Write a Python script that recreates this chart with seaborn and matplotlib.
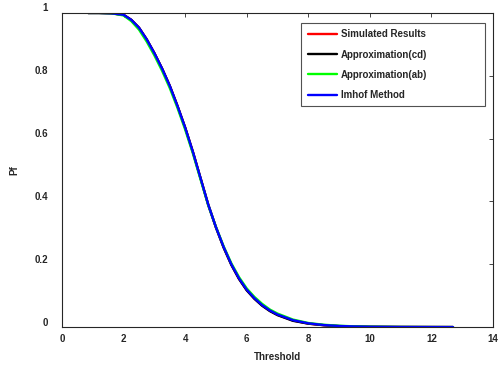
import pandas as pd
import seaborn as sns
import matplotlib.pyplot as plt
from matplotlib.transforms import ScaledTranslation

sns.set_style("white")
plt.rcParams['font.family'] = ['Liberation Sans', 'DejaVu Sans']

threshold = [0.85, 1.2, 1.6, 2.0, 2.25, 2.5, 2.75, 3.0, 3.25, 3.5, 3.75, 4.0,
             4.25, 4.5, 4.75, 5.0, 5.25, 5.5, 5.75, 6.0, 6.25, 6.5, 6.75, 7.0,
             7.5, 8.0, 8.5, 9.0, 9.5, 10.0, 11.0, 12.0, 12.7]

pf_simulated = [1.0, 1.0, 0.999, 0.994, 0.978, 0.953, 0.916, 0.872, 0.823, 0.768,
                0.704, 0.635, 0.558, 0.474, 0.390, 0.318, 0.254, 0.199, 0.154,
                0.118, 0.091, 0.069, 0.052, 0.039, 0.021, 0.011, 0.006, 0.003,
                0.0018, 0.0009, 0.0003, 0.0001, 0.0]
pf_cd = [1.0, 1.0, 0.999, 0.994, 0.978, 0.953, 0.916, 0.872, 0.823, 0.768,
         0.704, 0.635, 0.558, 0.474, 0.389, 0.317, 0.253, 0.198, 0.153,
         0.117, 0.090, 0.068, 0.051, 0.038, 0.020, 0.011, 0.006, 0.003,
         0.0018, 0.0009, 0.0003, 0.0001, 0.0]
pf_ab = [1.0, 1.0, 0.999, 0.992, 0.974, 0.947, 0.909, 0.865, 0.816, 0.761,
         0.698, 0.629, 0.553, 0.470, 0.388, 0.319, 0.257, 0.203, 0.159,
         0.123, 0.096, 0.074, 0.056, 0.043, 0.024, 0.013, 0.0075, 0.0042,
         0.0023, 0.0012, 0.0004, 0.0001, 0.0]
pf_imhof = [1.0, 1.0, 0.999, 0.994, 0.978, 0.953, 0.916, 0.872, 0.823, 0.768,
            0.704, 0.635, 0.558, 0.474, 0.390, 0.318, 0.255, 0.200, 0.155,
            0.119, 0.092, 0.070, 0.053, 0.040, 0.022, 0.012, 0.0065, 0.0035,
            0.002, 0.001, 0.0003, 0.0001, 0.0]

series = {
    'Simulated Results': pf_simulated,
    'Approximation(cd)': pf_cd,
    'Approximation(ab)': pf_ab,
    'Imhof Method': pf_imhof,
}
colors = ['#ff0000', '#000000', '#00ff00', '#0000ff']

df = pd.concat(
    [pd.DataFrame({'Threshold': threshold, 'Pf': v, 'method': k}) for k, v in series.items()],
    ignore_index=True,
)

ink = '#262626'
fig = plt.figure(figsize=(4.98, 3.70), dpi=100)
ax = fig.add_axes([0.1245, 0.116, 0.8655, 0.849])

sns.lineplot(data=df, x='Threshold', y='Pf', hue='method', palette=colors,
             estimator=None, sort=False, linewidth=1.7, ax=ax)

ax.set_xlim(0, 14)
ax.set_ylim(0, 1)
ax.set_xticks(range(0, 15, 2))
ax.set_yticks([0, 0.2, 0.4, 0.6, 0.8, 1])
ax.set_yticklabels(['0', '0.2', '0.4', '0.6', '0.8', '1'])
ax.tick_params(direction='in', length=3, width=0.6, colors=ink, labelsize=7,
               top=True, right=True)
ax.tick_params(axis='x', pad=5)
ax.tick_params(axis='y', pad=10)
# matlab-ish: y tick labels sit a little above their ticks
shift = ScaledTranslation(0, 4 / 72, fig.dpi_scale_trans)
for lbl in ax.get_yticklabels():
    lbl.set_transform(lbl.get_transform() + shift)
for lbl in ax.get_xticklabels() + ax.get_yticklabels():
    lbl.set_fontweight('bold')
for sp in ax.spines.values():
    sp.set_color(ink)
    sp.set_linewidth(0.8)
ax.set_xlabel('Threshold', fontsize=7, fontweight='bold', color=ink, labelpad=6)
ax.set_ylabel('Pf', fontsize=7, fontweight='bold', color=ink, labelpad=11)

leg = ax.legend(loc='upper left', bbox_to_anchor=(0.555, 0.70, 0.426, 0.268),
                mode='expand', prop={'weight': 'bold', 'size': 7},
                frameon=True, fancybox=False, edgecolor=ink, handlelength=3.0,
                handletextpad=0.4, labelspacing=1.05, borderpad=0.65,
                borderaxespad=0)
leg.get_frame().set_linewidth(0.8)
for line in leg.get_lines():
    line.set_linewidth(1.7)

fig.savefig('out.png', dpi=100)
